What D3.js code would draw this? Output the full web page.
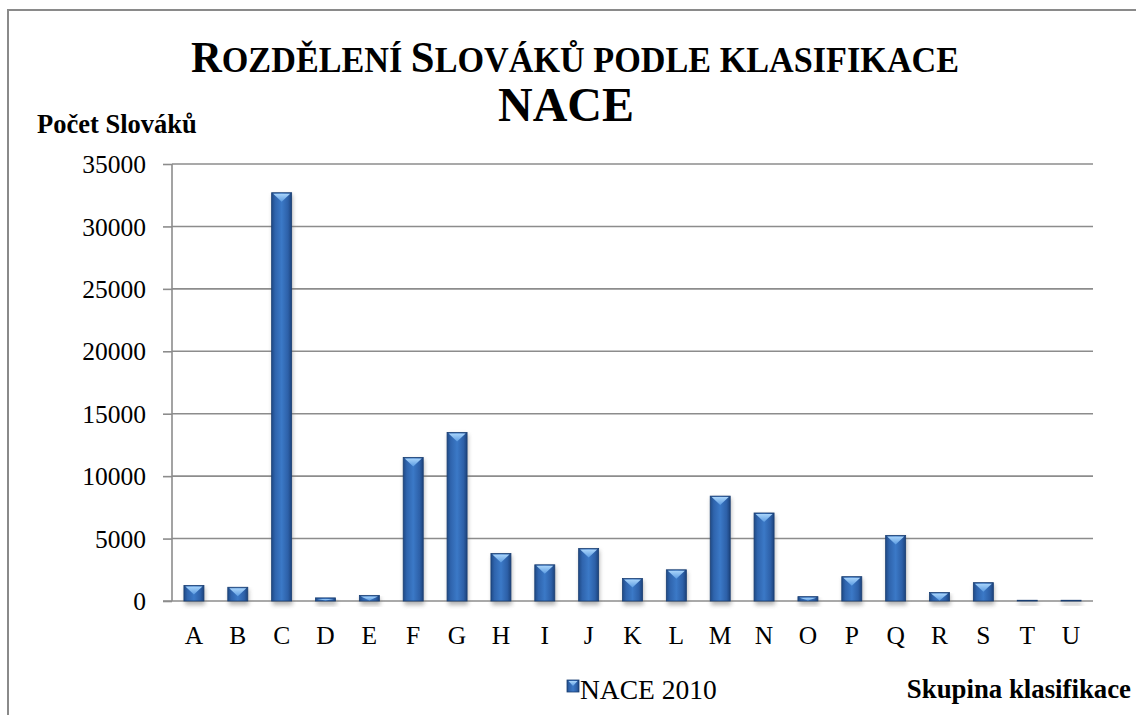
<!DOCTYPE html>
<html>
<head>
<meta charset="utf-8">
<script src="https://cdn.jsdelivr.net/npm/d3@7"></script>
<style>
  html, body { margin: 0; padding: 0; background: #fff; }
  svg { display: block; }
</style>
</head>
<body>
<svg id="chart" width="1136" height="715" font-family="Liberation Serif, serif"></svg>
<script>
const categories = ["A","B","C","D","E","F","G","H","I","J","K","L","M","N","O","P","Q","R","S","T","U"];
const values = [1250, 1100, 32700, 250, 450, 11500, 13500, 3800, 2900, 4200, 1800, 2500, 8400, 7050, 350, 1950, 5250, 680, 1470, 60, 60];
const yTicks = [0, 5000, 10000, 15000, 20000, 25000, 30000, 35000];
const seriesName = "NACE 2010";
const yTitle = "Počet Slováků";
const xTitle = "Skupina klasifikace";

const FONT = "Liberation Serif";
const svg = d3.select("#chart");
const defs = svg.append("defs");

const body = defs.append("linearGradient").attr("id", "barBody").attr("x1", "0").attr("x2", "1").attr("y1", "0").attr("y2", "0");
[["0%", "#1f4a86"], ["18%", "#2f64ad"], ["50%", "#3b79c7"], ["82%", "#2d60a8"], ["100%", "#1c437c"]]
  .forEach(([o, c]) => body.append("stop").attr("offset", o).attr("stop-color", c));

const cap = defs.append("linearGradient").attr("id", "barCap").attr("x1", "0").attr("x2", "0").attr("y1", "0").attr("y2", "1");
[["0%", "#a9d4fa"], ["100%", "#5c9ce2"]]
  .forEach(([o, c]) => cap.append("stop").attr("offset", o).attr("stop-color", c));

const blur = defs.append("filter").attr("id", "shadow").attr("x", "-50%").attr("y", "-10%").attr("width", "200%").attr("height", "130%");
blur.append("feGaussianBlur").attr("stdDeviation", 2);

// outer border (top and left only)
svg.append("path").attr("d", "M8,715 L8,10 L1136,10").attr("fill", "none").attr("stroke", "#8a8a8a").attr("stroke-width", 2);

const y = d3.scaleLinear().domain([0, 35000]).range([601, 164]);
const x = d3.scaleBand().domain(categories).range([172, 1093]).paddingInner(0.544).paddingOuter(0.272);

// gridlines
svg.append("g").selectAll("line").data(yTicks.filter(t => t > 0)).join("line")
  .attr("x1", 172).attr("x2", 1093)
  .attr("y1", d => y(d)).attr("y2", d => y(d))
  .attr("stroke", "#8c8c8c").attr("stroke-width", 1.6);

// y axis
const yAxis = d3.axisLeft(y).tickValues(yTicks).tickSize(9).tickPadding(17).tickFormat(d3.format("d"));
const gy = svg.append("g").attr("transform", "translate(172,0)").call(yAxis);
gy.attr("font-family", FONT);
gy.select(".domain").attr("stroke", "#8c8c8c").attr("stroke-width", 1.6).attr("d", `M0,${y(35000)}V${y(0)}`);
gy.selectAll(".tick line").attr("stroke", "#8c8c8c").attr("stroke-width", 1.6);
gy.selectAll(".tick text").attr("font-size", 25.5).attr("fill", "#000").attr("font-family", FONT).attr("dy", "0.34em");

// x axis line
svg.append("line").attr("x1", 163).attr("x2", 1093).attr("y1", y(0)).attr("y2", y(0))
  .attr("stroke", "#8c8c8c").attr("stroke-width", 1.6);

// x labels
const xAxis = d3.axisBottom(x).tickSize(0).tickPadding(25);
const gx = svg.append("g").attr("transform", `translate(0,${y(0)})`).call(xAxis);
gx.attr("font-family", FONT);
gx.select(".domain").remove();
gx.selectAll(".tick text").attr("font-size", 25.5).attr("fill", "#000").attr("font-family", FONT);

// bars
const bw = x.bandwidth();
const bars = svg.append("g").selectAll("g").data(categories.map((c, i) => ({ c, v: values[i] }))).join("g");
bars.append("rect")
  .attr("x", d => x(d.c) + 1).attr("y", d => y(d.v) + 2)
  .attr("width", bw).attr("height", d => y(0) - y(d.v) + 2)
  .attr("fill", "#777").attr("opacity", 0.55).attr("filter", "url(#shadow)");
bars.append("rect")
  .attr("x", d => x(d.c)).attr("y", d => y(d.v))
  .attr("width", bw).attr("height", d => y(0) - y(d.v))
  .attr("fill", "url(#barBody)").attr("stroke", "#1a3f73").attr("stroke-width", 0.8);
bars.append("path")
  .attr("d", d => {
    const x0 = x(d.c), t = y(d.v), h = Math.min(8, (y(0) - t) - 1.5);
    if (h <= 0.5) return "";
    return `M${x0 + 1.5},${t + 1}L${x0 + bw - 1.5},${t + 1}L${x0 + bw / 2},${t + 1 + h}Z`;
  })
  .attr("fill", "url(#barCap)");

// title (small caps, slightly condensed)
const title = svg.append("text").attr("transform", "translate(575,72) scale(0.95,1)").attr("text-anchor", "middle")
  .attr("font-family", FONT).attr("font-weight", "bold").attr("fill", "#000");
[["R", 45], ["OZDĚLENÍ ", 36], ["S", 45], ["LOVÁKŮ PODLE KLASIFIKACE", 36]].forEach(([t, s]) =>
  title.append("tspan").attr("font-size", s).text(t));
svg.append("text").attr("x", 566).attr("y", 121).attr("text-anchor", "middle")
  .attr("font-family", FONT).attr("font-weight", "bold").attr("font-size", 48).attr("fill", "#000").text("NACE");

// axis titles
svg.append("text").attr("x", 37).attr("y", 133).attr("font-family", FONT).attr("font-weight", "bold").attr("font-size", 26.5).attr("fill", "#000").text(yTitle);
svg.append("text").attr("x", 1131).attr("y", 698).attr("text-anchor", "end").attr("font-family", FONT).attr("font-weight", "bold").attr("font-size", 26.8).attr("fill", "#000").text(xTitle);

// legend
const lg = svg.append("g").attr("transform", "translate(567,680)");
lg.append("rect").attr("width", 12).attr("height", 12).attr("fill", "url(#barBody)").attr("stroke", "#1a3f73").attr("stroke-width", 0.8);
lg.append("path").attr("d", "M1.5,1L10.5,1L6,6Z").attr("fill", "url(#barCap)");
lg.append("text").attr("x", 13).attr("y", 19).attr("font-family", FONT).attr("font-size", 27.5).attr("fill", "#000").text(seriesName);
</script>
</body>
</html>
